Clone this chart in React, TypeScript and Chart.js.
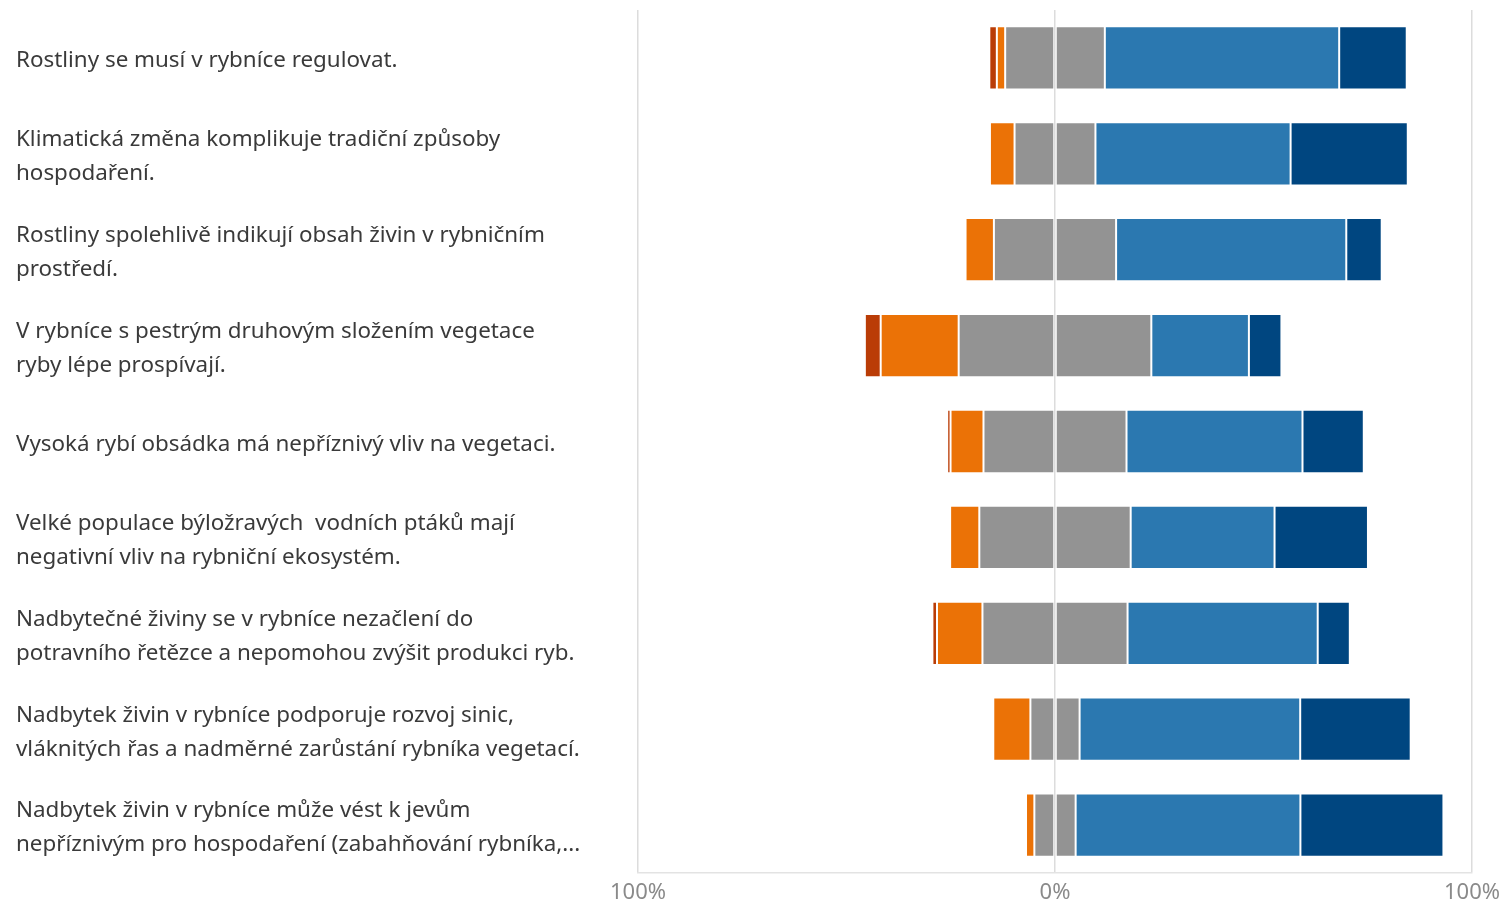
import React, { useEffect, useRef } from "react";
import { Chart, registerables } from "chart.js";

Chart.register(...registerables);

const categories: (string | string[])[] = [
  "Rostliny se musí v rybníce regulovat.",
  ["Klimatická změna komplikuje tradiční způsoby", "hospodaření."],
  ["Rostliny spolehlivě indikují obsah živin v rybničním", "prostředí."],
  ["V rybníce s pestrým druhovým složením vegetace", "ryby lépe prospívají."],
  "Vysoká rybí obsádka má nepříznivý vliv na vegetaci.",
  ["Velké populace býložravých  vodních ptáků mají", "negativní vliv na rybniční ekosystém."],
  ["Nadbytečné živiny se v rybníce nezačlení do", "potravního řetězce a nepomohou zvýšit produkci ryb."],
  ["Nadbytek živin v rybníce podporuje rozvoj sinic,", "vláknitých řas a nadměrné zarůstání rybníka vegetací."],
  ["Nadbytek živin v rybníce může vést k jevům", "nepříznivým pro hospodaření (zabahňování rybníka,..."],
];

const stronglyDisagree = [1.8, 0, 0, 3.8, 0.8, 0, 1.1, 0, 0];
const disagree = [2.0, 5.9, 6.8, 18.7, 7.9, 7.0, 10.9, 8.9, 2.0];
const neutral = [23.9, 19.4, 29.3, 46.2, 34.3, 36.3, 34.8, 11.8, 9.9];
const agree = [56.2, 46.8, 55.2, 23.4, 42.2, 34.5, 45.6, 52.9, 53.9];
const stronglyAgree = [16.2, 28.1, 8.5, 7.8, 14.7, 22.4, 7.7, 26.5, 34.3];

const xTicks = [-100, 0, 100];

const FONT = "'Noto Sans', 'Open Sans', sans-serif";

export default function App() {
  const ref = useRef<HTMLCanvasElement | null>(null);

  useEffect(() => {
    document.body.style.margin = "0";
    const ctx = ref.current;
    if (!ctx) return;
    const border = "rgba(255,255,255,0.2)";
    const mk = (label: string, data: number[], color: string) => ({
      label,
      data,
      backgroundColor: color,
      borderColor: border,
      borderWidth: 1,
      borderSkipped: false as const,
      stack: "s",
    });
    const chart = new Chart(ctx, {
      type: "bar",
      data: {
        labels: categories,
        datasets: [
          mk("Neutrální", neutral.map((v) => -v / 2), "#939393"),
          mk("Nesouhlasím", disagree.map((v) => -v), "#EB7206"),
          mk("Rozhodně nesouhlasím", stronglyDisagree.map((v) => -v), "#BA3C06"),
          mk("Neutrální ", neutral.map((v) => v / 2), "#939393"),
          mk("Souhlasím", agree, "#2B78B0"),
          mk("Rozhodně souhlasím", stronglyAgree, "#004680"),
        ],
      },
      options: {
        indexAxis: "y",
        animation: false,
        responsive: false,
        maintainAspectRatio: false,
        layout: { padding: { left: 16, right: 34, top: 10, bottom: 0 } },
        plugins: {
          legend: { display: false },
          tooltip: { enabled: false },
        },
        datasets: {
          bar: { barPercentage: 0.66, categoryPercentage: 1 },
        },
        scales: {
          x: {
            type: "linear",
            min: -100,
            max: 100,
            stacked: true,
            z: 1,
            afterBuildTicks: (scale: any) => {
              scale.ticks = xTicks.map((v) => ({ value: v }));
            },
            afterFit: (scale: any) => {
              scale.height = 30;
              scale.paddingLeft = 0;
              scale.paddingRight = 0;
            },
            grid: {
              color: "#dcdcdc",
              lineWidth: 1.5,
              drawTicks: false,
            },
            border: { display: true, color: "#e3e3e3", width: 1.5 },
            ticks: {
              padding: 7,
              color: "#8a8a8a",
              font: { family: FONT, size: 22 },
              callback: (v: any) => Math.abs(Number(v)) + "%",
            },
          },
          y: {
            stacked: true,
            afterFit: (scale: any) => {
              scale.width = 622;
              scale.paddingTop = 0;
              scale.paddingBottom = 0;
            },
            grid: { display: false },
            border: { display: false },
            ticks: {
              crossAlign: "far",
              labelOffset: 3,
              color: "#3a3a3a",
              font: { family: FONT, size: 22.4, lineHeight: 1.52 },
            },
          },
        },
      },
    });
    return () => chart.destroy();
  }, []);

  return (
    <div style={{ position: "relative", width: 1506, height: 903 }}>
      <canvas ref={ref} width={1506} height={903} style={{ width: 1506, height: 903 }} />
    </div>
  );
}
